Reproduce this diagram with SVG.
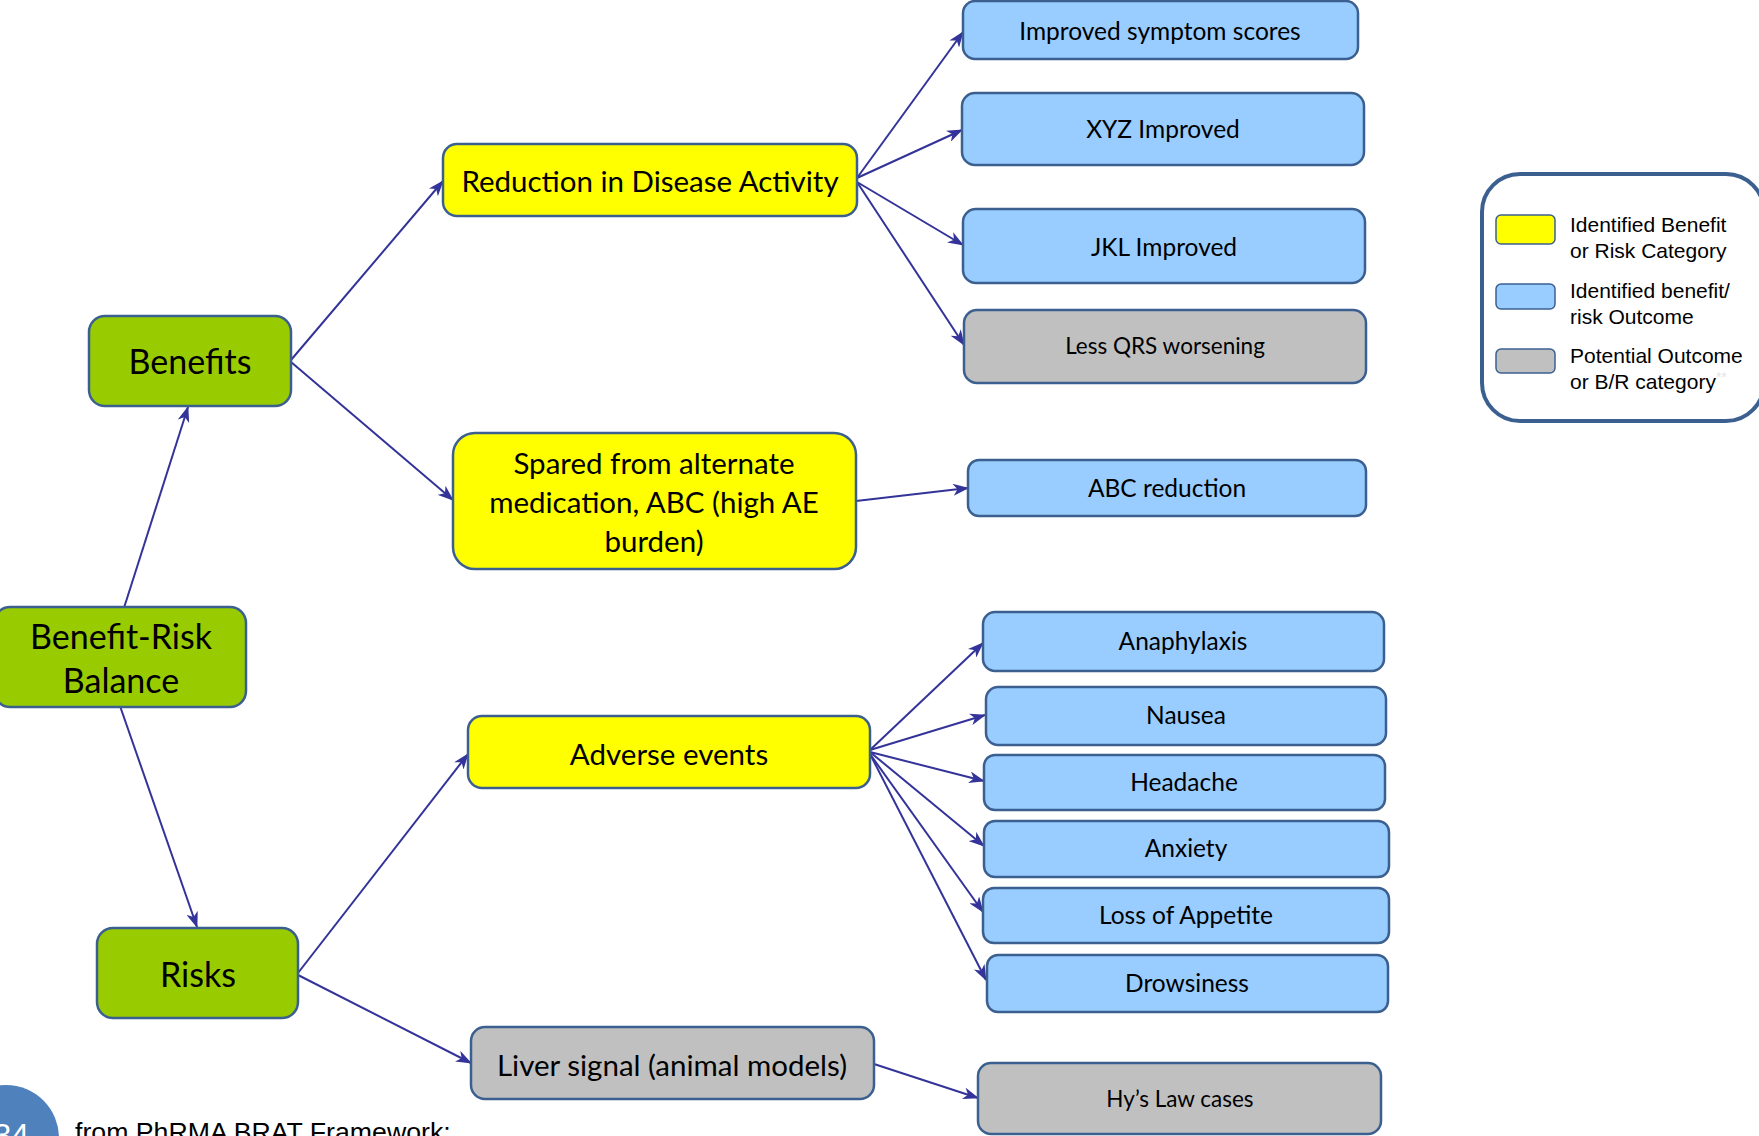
<svg xmlns="http://www.w3.org/2000/svg" width="1759" height="1136" viewBox="0 0 1759 1136">
<defs>
<marker id="arr" viewBox="0 0 16 12" refX="15" refY="6" markerWidth="16" markerHeight="12" markerUnits="userSpaceOnUse" orient="auto">
<path d="M16,6 L0,0 L4.5,6 L0,12 z" fill="#333399"/>
</marker>
</defs>
<style>
.box{stroke:#3b6090;stroke-width:2.5}
.green{fill:#99cc00}
.yellow{fill:#ffff00}
.blue{fill:#99ccff}
.gray{fill:#c0c0c0}
.t{font-family:Lato,"Open Sans",sans-serif;fill:#000;text-anchor:middle}
.big{font-size:34px}
.mid{font-size:29.5px}
.sm{font-size:24.5px}
.xs{font-size:22.5px}
.conn line{stroke:#333399;stroke-width:2;marker-end:url(#arr)}
.lg{font-family:"Liberation Sans",Arial,sans-serif;font-size:21px;fill:#000}
</style>
<rect width="1759" height="1136" fill="#fff"/>

<g id="connectors" class="conn">
<line x1="123" y1="611" x2="188" y2="407"/>
<line x1="120" y1="706" x2="197" y2="927"/>
<line x1="291" y1="360" x2="443" y2="181"/>
<line x1="291" y1="362" x2="453" y2="500"/>
<line x1="857" y1="178" x2="963" y2="32"/>
<line x1="857" y1="178" x2="962" y2="130"/>
<line x1="857" y1="182" x2="963" y2="245"/>
<line x1="857" y1="182" x2="964" y2="345"/>
<line x1="856" y1="501" x2="968" y2="488"/>
<line x1="298" y1="973" x2="468" y2="754"/>
<line x1="298" y1="975" x2="471" y2="1063"/>
<line x1="870" y1="750" x2="983" y2="643"/>
<line x1="870" y1="750" x2="985" y2="715"/>
<line x1="870" y1="752" x2="984" y2="781"/>
<line x1="870" y1="752" x2="984" y2="846"/>
<line x1="870" y1="754" x2="983" y2="912"/>
<line x1="870" y1="754" x2="986" y2="980"/>
<line x1="874" y1="1064" x2="978" y2="1098"/>
</g>

<g id="n-balance"><rect class="box green" x="-6" y="607" width="252" height="100" rx="16"/>
<text class="t big" x="121" y="649">Benefit-Risk</text><text class="t big" x="121" y="693">Balance</text></g>
<g id="n-benefits"><rect class="box green" x="89" y="316" width="202" height="90" rx="16"/>
<text class="t big" x="190" y="374">Benefits</text></g>
<g id="n-risks"><rect class="box green" x="97" y="928" width="201" height="90" rx="16"/>
<text class="t big" x="198" y="987">Risks</text></g>

<g id="n-reduction"><rect class="box yellow" x="443" y="144" width="414" height="72" rx="14"/>
<text class="t mid" x="650" y="192">Reduction in Disease Activity</text></g>
<g id="n-spared"><rect class="box yellow" x="453" y="433" width="403" height="136" rx="22"/>
<text class="t mid" x="654" y="474">Spared from alternate</text>
<text class="t mid" x="654" y="513">medication, ABC (high AE</text>
<text class="t mid" x="654" y="552">burden)</text></g>
<g id="n-adverse"><rect class="box yellow" x="468" y="716" width="402" height="72" rx="14"/>
<text class="t mid" x="669" y="765">Adverse events</text></g>
<g id="n-liver"><rect class="box gray" x="471" y="1027" width="403" height="72" rx="14"/>
<text class="t mid" x="672" y="1076">Liver signal (animal models)</text></g>

<g id="n-iss"><rect class="box blue" x="963" y="1" width="395" height="58" rx="12"/>
<text class="t sm" x="1160" y="40">Improved symptom scores</text></g>
<g id="n-xyz"><rect class="box blue" x="962" y="93" width="402" height="72" rx="13"/>
<text class="t sm" x="1163" y="138">XYZ Improved</text></g>
<g id="n-jkl"><rect class="box blue" x="963" y="209" width="402" height="74" rx="13"/>
<text class="t sm" x="1164" y="256">JKL Improved</text></g>
<g id="n-qrs"><rect class="box gray" x="964" y="310" width="402" height="73" rx="13"/>
<text class="t xs" x="1165" y="354">Less QRS worsening</text></g>
<g id="n-abc"><rect class="box blue" x="968" y="460" width="398" height="56" rx="11"/>
<text class="t sm" x="1167" y="497">ABC reduction</text></g>

<g id="n-anaph"><rect class="box blue" x="983" y="612" width="401" height="59" rx="12"/>
<text class="t sm" x="1183" y="650">Anaphylaxis</text></g>
<g id="n-nausea"><rect class="box blue" x="986" y="687" width="400" height="58" rx="12"/>
<text class="t sm" x="1186" y="724">Nausea</text></g>
<g id="n-headache"><rect class="box blue" x="984" y="755" width="401" height="55" rx="11"/>
<text class="t sm" x="1184" y="791">Headache</text></g>
<g id="n-anxiety"><rect class="box blue" x="984" y="821" width="405" height="56" rx="11"/>
<text class="t sm" x="1186" y="857">Anxiety</text></g>
<g id="n-appetite"><rect class="box blue" x="983" y="888" width="406" height="55" rx="11"/>
<text class="t sm" x="1186" y="924">Loss of Appetite</text></g>
<g id="n-drowsiness"><rect class="box blue" x="987" y="955" width="401" height="57" rx="11"/>
<text class="t sm" x="1187" y="992">Drowsiness</text></g>
<g id="n-hys"><rect class="box gray" x="978" y="1063" width="403" height="71" rx="13"/>
<text class="t xs" x="1180" y="1107">Hy’s Law cases</text></g>

<g id="legend">
<rect x="1482" y="174" width="282" height="247" rx="38" fill="#fff" stroke="#3b6090" stroke-width="4"/>
<rect x="1496" y="215" width="59" height="29" rx="5" fill="#ffff00" stroke="#3b6090" stroke-width="1.5"/>
<rect x="1496" y="284" width="59" height="25" rx="5" fill="#99ccff" stroke="#3b6090" stroke-width="1.5"/>
<rect x="1496" y="349" width="59" height="24" rx="5" fill="#c0c0c0" stroke="#3b6090" stroke-width="1.5"/>
<text class="lg" x="1570" y="232">Identified Benefit</text>
<text class="lg" x="1570" y="258">or Risk Category</text>
<text class="lg" x="1570" y="298">Identified benefit/</text>
<text class="lg" x="1570" y="324">risk Outcome</text>
<text class="lg" x="1570" y="363">Potential Outcome</text>
<text class="lg" x="1570" y="389">or B/R category<tspan font-size="14" fill="#e4e4e4" dy="-7">**</tspan></text>
</g>

<g id="footer">
<circle cx="6" cy="1138" r="53" fill="#4f81bd"/>
<text x="29" y="1146" font-family="'Liberation Sans',Arial,sans-serif" font-size="32" fill="#fff" text-anchor="end">34</text>
<text x="75" y="1141" font-family="'Liberation Sans',Arial,sans-serif" font-size="26.7" fill="#000">from PhRMA BRAT Framework;</text>
</g>
</svg>
